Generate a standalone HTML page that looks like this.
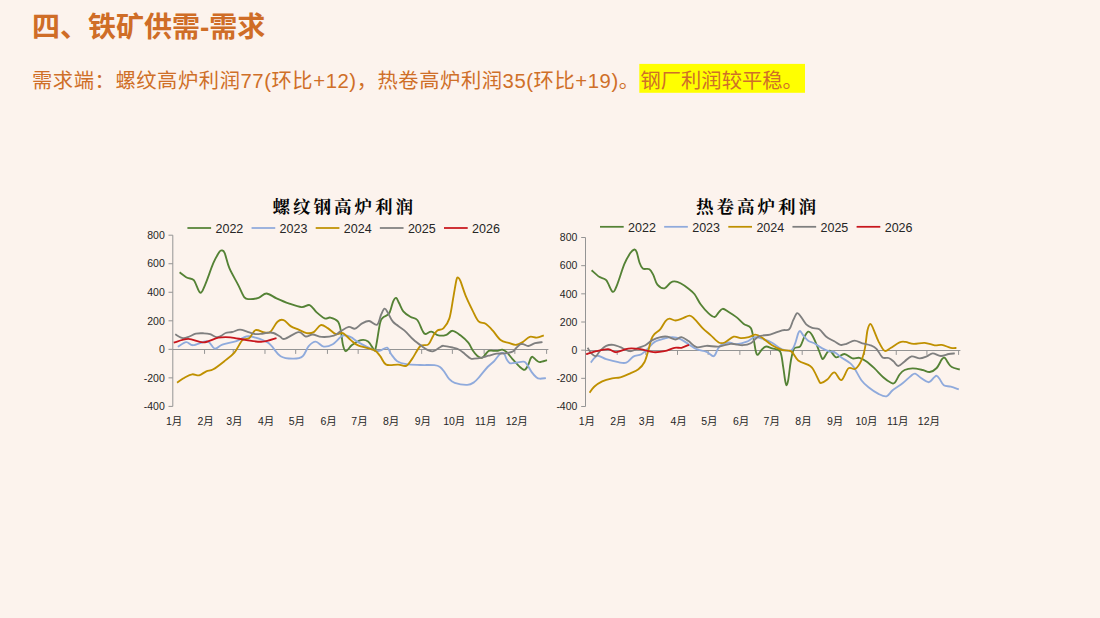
<!DOCTYPE html>
<html><head><meta charset="utf-8"><title>四、铁矿供需-需求</title>
<style>
html,body{margin:0;padding:0;background:#fcf3ed;}
body{width:1100px;height:618px;overflow:hidden;font-family:"Liberation Sans",sans-serif;}
svg{display:block;position:absolute;left:0;top:0}
</style></head><body>
<svg width="1100" height="618" viewBox="0 0 1100 618" role="img" aria-label="四、铁矿供需-需求">
<title>四、铁矿供需-需求</title>
<desc>需求端：螺纹高炉利润77(环比+12)，热卷高炉利润35(环比+19)。钢厂利润较平稳。 图表：螺纹钢高炉利润；热卷高炉利润。图例：2022 2023 2024 2025 2026。纵轴 800 600 400 200 0 -200 -400；横轴 1月 至 12月。</desc>
<rect width="1100" height="618" fill="#fcf3ed"/>
<text x="32" y="37" font-size="28" font-weight="bold" fill="#cf6d27" font-family="'Liberation Sans','Noto Sans CJK SC',sans-serif">四、铁矿供需-需求</text>
<rect x="639.3" y="63.9" width="165.7" height="28.9" fill="#ffff00"/>
<text x="32" y="87.5" font-size="20.3" fill="#cf6f28" textLength="607" lengthAdjust="spacing" font-family="'Liberation Sans','Noto Sans CJK SC',sans-serif">需求端：螺纹高炉利润77(环比+12)，热卷高炉利润35(环比+19)。</text>
<text x="640.5" y="87.5" font-size="20.3" fill="#cf6f28" font-family="'Liberation Sans','Noto Sans CJK SC',sans-serif">钢厂利润较平稳。</text>
<path d="M172.80 235.20V406.40M168.50 235.20H172.80M168.50 263.73H172.80M168.50 292.27H172.80M168.50 320.80H172.80M168.50 349.33H172.80M168.50 377.87H172.80M168.50 406.40H172.80M172.80 349.50H548.40M204.55 349.50v4.4M233.22 349.50v4.4M264.97 349.50v4.4M295.69 349.50v4.4M327.44 349.50v4.4M358.16 349.50v4.4M389.91 349.50v4.4M421.66 349.50v4.4M452.38 349.50v4.4M484.13 349.50v4.4M514.85 349.50v4.4M546.60 349.50v4.4" stroke="#949494" stroke-width="1" fill="none"/>
<g font-size="10.5" fill="#262626" text-anchor="end" font-family="'Liberation Sans',sans-serif">
<text x="164.8" y="238.9">800</text>
<text x="164.8" y="267.4">600</text>
<text x="164.8" y="296">400</text>
<text x="164.8" y="324.5">200</text>
<text x="164.8" y="353">0</text>
<text x="164.8" y="381.6">-200</text>
<text x="164.8" y="410.1">-400</text>
</g>
<g font-size="10.5" fill="#262626" font-family="'Liberation Sans','Noto Sans CJK SC',sans-serif">
<text x="166" y="425">1月</text>
<text x="197.5" y="425">2月</text>
<text x="226.2" y="425">3月</text>
<text x="258" y="425">4月</text>
<text x="288.7" y="425">5月</text>
<text x="320.5" y="425">6月</text>
<text x="351.3" y="425">7月</text>
<text x="383" y="425">8月</text>
<text x="414.7" y="425">9月</text>
<text x="443.2" y="425">10月</text>
<text x="475" y="425">11月</text>
<text x="505.7" y="425">12月</text>
</g>
<text x="272.5" y="213" font-size="17.5" font-weight="bold" letter-spacing="3" fill="#050505" font-family="'Liberation Serif','Noto Serif CJK SC',serif">螺纹钢高炉利润</text>
<path d="M187.40 228.00h23.7" stroke="#548235" stroke-width="1.75" fill="none"/>
<path d="M251.55 228.00h23.7" stroke="#8faadc" stroke-width="1.75" fill="none"/>
<path d="M315.70 228.00h23.7" stroke="#bf9000" stroke-width="1.75" fill="none"/>
<path d="M379.85 228.00h23.7" stroke="#7f7f7f" stroke-width="1.75" fill="none"/>
<path d="M444.00 228.00h23.7" stroke="#c8161d" stroke-width="1.75" fill="none"/>
<g font-size="12.5" fill="#262626" font-family="'Liberation Sans',sans-serif">
<text x="215.5" y="232.9">2022</text>
<text x="279.6" y="232.9">2023</text>
<text x="343.8" y="232.9">2024</text>
<text x="407.9" y="232.9">2025</text>
<text x="472.1" y="232.9">2026</text>
</g>
<path d="M179.60 272.20C180.87 273.13 184.83 276.47 187.20 277.80C189.57 279.13 191.63 277.72 193.80 280.20C195.97 282.68 198.28 292.02 200.20 292.70C202.12 293.38 203.12 289.22 205.30 284.30C207.48 279.38 210.97 268.57 213.30 263.20C215.63 257.83 217.87 254.22 219.30 252.10C220.73 249.98 221.00 250.33 221.90 250.50C222.80 250.67 223.45 250.15 224.70 253.10C225.95 256.05 227.12 262.83 229.40 268.20C231.68 273.57 235.90 280.45 238.40 285.30C240.90 290.15 242.57 295.00 244.40 297.30C246.23 299.60 247.05 299.00 249.40 299.10C251.75 299.20 255.65 298.83 258.50 297.90C261.35 296.97 263.50 293.43 266.50 293.50C269.50 293.57 272.82 296.67 276.50 298.30C280.18 299.93 284.42 301.83 288.60 303.30C292.78 304.77 298.08 306.80 301.60 307.10C305.12 307.40 307.18 304.22 309.70 305.10C312.22 305.98 314.20 310.18 316.70 312.40C319.20 314.62 322.42 317.53 324.70 318.40C326.98 319.27 328.22 317.10 330.40 317.60C332.58 318.10 336.07 319.27 337.80 321.40C339.53 323.53 339.97 326.62 340.80 330.40C341.63 334.18 341.97 340.63 342.80 344.10C343.63 347.57 344.27 351.05 345.80 351.20C347.33 351.35 349.45 346.85 352.00 345.00C354.55 343.15 358.42 340.68 361.10 340.10C363.78 339.52 366.10 340.10 368.10 341.50C370.10 342.90 371.93 347.07 373.10 348.50C374.27 349.93 374.43 351.43 375.10 350.10C375.77 348.77 376.25 345.12 377.10 340.50C377.95 335.88 379.18 326.25 380.20 322.40C381.22 318.55 381.70 318.92 383.20 317.40C384.70 315.88 387.53 315.98 389.20 313.30C390.87 310.62 392.03 303.87 393.20 301.30C394.37 298.73 395.20 297.57 396.20 297.90C397.20 298.23 398.02 301.07 399.20 303.30C400.38 305.53 401.45 309.05 403.30 311.30C405.15 313.55 407.97 315.35 410.30 316.80C412.63 318.25 415.30 317.73 417.30 320.00C419.30 322.27 420.97 328.07 422.30 330.40C423.63 332.73 423.78 333.80 425.30 334.00C426.82 334.20 429.22 331.37 431.40 331.60C433.58 331.83 435.90 334.87 438.40 335.40C440.90 335.93 444.05 335.57 446.40 334.80C448.75 334.03 450.17 330.72 452.50 330.80C454.83 330.88 457.77 333.32 460.40 335.30C463.03 337.28 466.23 340.15 468.30 342.70C470.37 345.25 471.28 348.38 472.80 350.60C474.32 352.82 475.88 354.78 477.40 356.00C478.92 357.22 480.58 358.15 481.90 357.90C483.22 357.65 484.17 355.68 485.30 354.50C486.43 353.32 487.38 351.42 488.70 350.80C490.02 350.18 491.68 350.80 493.20 350.80C494.72 350.80 496.28 350.98 497.80 350.80C499.32 350.62 500.80 349.45 502.30 349.70C503.80 349.95 505.10 350.73 506.80 352.30C508.50 353.87 510.42 356.75 512.50 359.10C514.58 361.45 517.32 364.62 519.30 366.40C521.28 368.18 522.98 369.88 524.40 369.80C525.82 369.72 526.77 367.78 527.80 365.90C528.83 364.02 529.80 360.02 530.60 358.50C531.40 356.98 531.65 356.52 532.60 356.80C533.55 357.08 535.12 359.32 536.30 360.20C537.48 361.08 537.92 362.10 539.70 362.10C541.48 362.10 545.78 360.52 547.00 360.20" stroke="#548235" stroke-width="1.85" fill="none" stroke-linecap="butt" stroke-linejoin="round"/>
<path d="M177.80 346.80C179.20 346.02 183.63 342.37 186.20 342.10C188.77 341.83 189.68 345.33 193.20 345.20C196.72 345.07 203.72 340.73 207.30 341.30C210.88 341.87 212.20 348.05 214.70 348.60C217.20 349.15 218.68 345.85 222.30 344.60C225.92 343.35 232.38 342.45 236.40 341.10C240.42 339.75 243.38 337.13 246.40 336.50C249.42 335.87 250.82 336.20 254.50 337.30C258.18 338.40 264.15 339.95 268.50 343.10C272.85 346.25 276.42 353.62 280.60 356.20C284.78 358.78 289.92 358.60 293.60 358.60C297.28 358.60 300.18 358.27 302.70 356.20C305.22 354.13 306.53 348.62 308.70 346.20C310.87 343.78 313.20 341.63 315.70 341.70C318.20 341.77 320.85 346.18 323.70 346.60C326.55 347.02 329.62 346.02 332.80 344.20C335.98 342.38 339.80 336.88 342.80 335.70C345.80 334.52 348.25 336.03 350.80 337.10C353.35 338.17 354.22 339.92 358.10 342.10C361.98 344.28 370.42 348.78 374.10 350.20C377.78 351.62 378.02 351.03 380.20 350.60C382.38 350.17 385.37 347.00 387.20 347.60C389.03 348.20 389.53 351.93 391.20 354.20C392.87 356.47 394.68 359.53 397.20 361.20C399.72 362.87 402.45 363.57 406.30 364.20C410.15 364.83 415.62 364.83 420.30 365.00C424.98 365.17 431.12 364.87 434.40 365.20C437.68 365.53 438.32 365.85 440.00 367.00C441.68 368.15 442.98 370.12 444.50 372.10C446.02 374.08 447.40 377.10 449.10 378.90C450.80 380.70 451.68 381.92 454.70 382.90C457.72 383.88 463.98 384.90 467.20 384.80C470.42 384.70 471.93 383.67 474.00 382.30C476.07 380.93 477.33 379.15 479.60 376.60C481.87 374.05 485.13 369.63 487.60 367.00C490.07 364.37 492.52 362.78 494.40 360.80C496.28 358.82 497.68 356.43 498.90 355.10C500.12 353.77 500.75 352.90 501.70 352.80C502.65 352.70 503.75 353.37 504.60 354.50C505.45 355.63 505.87 358.13 506.80 359.60C507.73 361.07 508.50 362.82 510.20 363.30C511.90 363.78 514.73 362.77 517.00 362.50C519.27 362.23 522.10 361.33 523.80 361.70C525.50 362.07 525.88 362.97 527.20 364.70C528.52 366.43 530.18 370.02 531.70 372.10C533.22 374.18 534.97 376.10 536.30 377.20C537.63 378.30 538.10 378.55 539.70 378.70C541.30 378.85 544.87 378.20 545.90 378.10" stroke="#8faadc" stroke-width="1.85" fill="none" stroke-linecap="butt" stroke-linejoin="round"/>
<path d="M177.10 382.70C178.45 381.80 182.68 378.70 185.20 377.30C187.72 375.90 189.87 374.63 192.20 374.30C194.53 373.97 196.85 375.80 199.20 375.30C201.55 374.80 203.95 372.30 206.30 371.30C208.65 370.30 210.30 370.98 213.30 369.30C216.30 367.62 220.78 363.98 224.30 361.20C227.82 358.42 231.38 356.12 234.40 352.60C237.42 349.08 239.90 342.52 242.40 340.10C244.90 337.68 247.22 339.77 249.40 338.10C251.58 336.43 252.98 331.03 255.50 330.10C258.02 329.17 262.00 332.23 264.50 332.50C267.00 332.77 268.33 333.50 270.50 331.70C272.67 329.90 275.32 323.63 277.50 321.70C279.68 319.77 281.42 319.37 283.60 320.10C285.78 320.83 288.10 324.50 290.60 326.10C293.10 327.70 295.92 328.53 298.60 329.70C301.28 330.87 304.18 332.70 306.70 333.10C309.22 333.50 311.37 333.43 313.70 332.10C316.03 330.77 318.37 325.77 320.70 325.10C323.03 324.43 325.18 326.60 327.70 328.10C330.22 329.60 333.28 333.27 335.80 334.10C338.32 334.93 340.30 332.10 342.80 333.10C345.30 334.10 348.25 338.05 350.80 340.10C353.35 342.15 354.22 343.72 358.10 345.40C361.98 347.08 370.42 348.40 374.10 350.20C377.78 352.00 378.18 353.80 380.20 356.20C382.22 358.60 383.20 363.20 386.20 364.60C389.20 366.00 394.85 364.40 398.20 364.60C401.55 364.80 403.95 366.80 406.30 365.80C408.65 364.80 409.97 361.87 412.30 358.60C414.63 355.33 417.62 348.57 420.30 346.20C422.98 343.83 426.22 346.20 428.40 344.40C430.58 342.60 431.90 337.73 433.40 335.40C434.90 333.07 435.73 331.57 437.40 330.40C439.07 329.23 441.40 330.40 443.40 328.40C445.40 326.40 447.72 323.75 449.40 318.40C451.08 313.05 452.32 302.73 453.50 296.30C454.68 289.87 455.72 282.92 456.50 279.80C457.28 276.68 457.53 277.37 458.20 277.60C458.87 277.83 459.28 278.25 460.50 281.20C461.72 284.15 463.50 290.45 465.50 295.30C467.50 300.15 470.32 305.95 472.50 310.30C474.68 314.65 476.42 319.15 478.60 321.40C480.78 323.65 483.27 322.30 485.60 323.80C487.93 325.30 490.10 327.68 492.60 330.40C495.10 333.12 497.92 338.02 500.60 340.10C503.28 342.18 506.18 342.10 508.70 342.90C511.22 343.70 513.37 345.03 515.70 344.90C518.03 344.77 520.35 343.45 522.70 342.10C525.05 340.75 527.45 337.55 529.80 336.80C532.15 336.05 534.47 337.83 536.80 337.60C539.13 337.37 542.63 335.77 543.80 335.40" stroke="#bf9000" stroke-width="1.85" fill="none" stroke-linecap="butt" stroke-linejoin="round"/>
<path d="M175.20 334.30C176.48 334.95 180.53 337.83 182.90 338.20C185.27 338.57 187.23 337.27 189.40 336.50C191.57 335.73 193.53 334.13 195.90 333.60C198.27 333.07 201.23 333.20 203.60 333.30C205.97 333.40 207.93 333.55 210.10 334.20C212.27 334.85 214.77 336.92 216.60 337.20C218.43 337.48 219.60 336.60 221.10 335.90C222.60 335.20 223.77 333.65 225.60 333.00C227.43 332.35 229.72 332.55 232.10 332.00C234.48 331.45 237.52 329.80 239.90 329.70C242.28 329.60 244.03 330.70 246.40 331.40C248.77 332.10 251.73 333.48 254.10 333.90C256.47 334.32 258.22 334.12 260.60 333.90C262.98 333.68 266.25 332.75 268.40 332.60C270.55 332.45 271.57 332.35 273.50 333.00C275.43 333.65 278.15 335.52 280.00 336.50C281.85 337.48 281.50 339.63 284.60 338.90C287.70 338.17 295.08 332.50 298.60 332.10C302.12 331.70 303.35 336.10 305.70 336.50C308.05 336.90 310.03 334.43 312.70 334.50C315.37 334.57 318.18 336.70 321.70 336.90C325.22 337.10 330.62 336.67 333.80 335.70C336.98 334.73 338.30 332.57 340.80 331.10C343.30 329.63 346.42 327.30 348.80 326.90C351.18 326.50 352.88 329.28 355.10 328.70C357.32 328.12 359.77 324.68 362.10 323.40C364.43 322.12 366.60 320.77 369.10 321.00C371.60 321.23 375.08 325.90 377.10 324.80C379.12 323.70 379.95 317.08 381.20 314.40C382.45 311.72 383.43 308.88 384.60 308.70C385.77 308.52 386.77 311.08 388.20 313.30C389.63 315.52 390.52 319.15 393.20 322.00C395.88 324.85 400.95 327.48 404.30 330.40C407.65 333.32 410.30 336.82 413.30 339.50C416.30 342.18 419.78 344.68 422.30 346.50C424.82 348.32 426.55 349.62 428.40 350.40C430.25 351.18 431.47 351.73 433.40 351.20C435.33 350.67 438.33 348.10 440.00 347.20C441.67 346.30 441.32 345.75 443.40 345.80C445.48 345.85 449.85 346.85 452.50 347.50C455.15 348.15 457.23 348.62 459.30 349.70C461.37 350.78 463.02 352.53 464.90 354.00C466.78 355.47 469.08 357.72 470.60 358.50C472.12 359.28 472.30 358.80 474.00 358.70C475.70 358.60 478.35 358.40 480.80 357.90C483.25 357.40 486.07 356.40 488.70 355.70C491.33 355.00 493.95 354.08 496.60 353.70C499.25 353.32 501.95 353.73 504.60 353.40C507.25 353.07 510.62 352.55 512.50 351.70C514.38 350.85 514.58 349.53 515.90 348.30C517.22 347.07 519.08 344.97 520.40 344.30C521.72 343.63 522.48 344.02 523.80 344.30C525.12 344.58 526.42 346.18 528.30 346.00C530.18 345.82 532.73 343.85 535.10 343.20C537.47 342.55 541.27 342.28 542.50 342.10" stroke="#7f7f7f" stroke-width="1.85" fill="none" stroke-linecap="butt" stroke-linejoin="round"/>
<path d="M173.70 342.70C176.12 342.07 183.27 338.97 188.20 338.90C193.13 338.83 198.28 342.50 203.30 342.30C208.32 342.10 213.78 338.53 218.30 337.70C222.82 336.87 225.72 336.90 230.40 337.30C235.08 337.70 241.05 339.37 246.40 340.10C251.75 340.83 257.48 342.03 262.50 341.70C267.52 341.37 274.17 338.70 276.50 338.10" stroke="#c8161d" stroke-width="1.85" fill="none" stroke-linecap="butt" stroke-linejoin="round"/>
<path d="M585.50 237.50V406.50M581.20 237.50H585.50M581.20 265.67H585.50M581.20 293.83H585.50M581.20 322.00H585.50M581.20 350.17H585.50M581.20 378.33H585.50M581.20 406.50H585.50M585.50 350.50H960.40M617.19 350.50v4.4M645.81 350.50v4.4M677.50 350.50v4.4M708.16 350.50v4.4M739.85 350.50v4.4M770.52 350.50v4.4M802.20 350.50v4.4M833.89 350.50v4.4M864.56 350.50v4.4M896.25 350.50v4.4M926.91 350.50v4.4M958.60 350.50v4.4" stroke="#949494" stroke-width="1" fill="none"/>
<g font-size="10.5" fill="#262626" text-anchor="end" font-family="'Liberation Sans',sans-serif">
<text x="577.4" y="241.2">800</text>
<text x="577.4" y="269.4">600</text>
<text x="577.4" y="297.5">400</text>
<text x="577.4" y="325.7">200</text>
<text x="577.4" y="353.9">0</text>
<text x="577.4" y="382">-200</text>
<text x="577.4" y="410.2">-400</text>
</g>
<g font-size="10.5" fill="#262626" font-family="'Liberation Sans','Noto Sans CJK SC',sans-serif">
<text x="578.7" y="425">1月</text>
<text x="610.2" y="425">2月</text>
<text x="638.8" y="425">3月</text>
<text x="670.5" y="425">4月</text>
<text x="701.2" y="425">5月</text>
<text x="733" y="425">6月</text>
<text x="763.6" y="425">7月</text>
<text x="795.3" y="425">8月</text>
<text x="827" y="425">9月</text>
<text x="855.4" y="425">10月</text>
<text x="887.1" y="425">11月</text>
<text x="917.8" y="425">12月</text>
</g>
<text x="696" y="213.2" font-size="17.5" font-weight="bold" letter-spacing="3" fill="#050505" font-family="'Liberation Serif','Noto Serif CJK SC',serif">热卷高炉利润</text>
<path d="M600.00 226.80h23.7" stroke="#548235" stroke-width="1.75" fill="none"/>
<path d="M664.15 226.80h23.7" stroke="#8faadc" stroke-width="1.75" fill="none"/>
<path d="M728.30 226.80h23.7" stroke="#bf9000" stroke-width="1.75" fill="none"/>
<path d="M792.45 226.80h23.7" stroke="#7f7f7f" stroke-width="1.75" fill="none"/>
<path d="M856.60 226.80h23.7" stroke="#c8161d" stroke-width="1.75" fill="none"/>
<g font-size="12.5" fill="#262626" font-family="'Liberation Sans',sans-serif">
<text x="628.1" y="231.7">2022</text>
<text x="692.2" y="231.7">2023</text>
<text x="756.4" y="231.7">2024</text>
<text x="820.5" y="231.7">2025</text>
<text x="884.7" y="231.7">2026</text>
</g>
<path d="M591.60 270.20C592.87 271.30 596.77 275.13 599.20 276.80C601.63 278.47 603.95 277.68 606.20 280.20C608.45 282.72 610.85 291.22 612.70 291.90C614.55 292.58 615.37 288.92 617.30 284.30C619.23 279.68 622.13 269.40 624.30 264.20C626.47 259.00 628.63 255.55 630.30 253.10C631.97 250.65 633.23 249.67 634.30 249.50C635.37 249.33 635.85 249.98 636.70 252.10C637.55 254.22 638.38 259.45 639.40 262.20C640.42 264.95 641.13 267.43 642.80 268.60C644.47 269.77 647.63 268.10 649.40 269.20C651.17 270.30 652.07 272.62 653.40 275.20C654.73 277.78 655.55 282.52 657.40 284.70C659.25 286.88 662.32 288.63 664.50 288.30C666.68 287.97 668.83 283.85 670.50 282.70C672.17 281.55 672.83 281.30 674.50 281.40C676.17 281.50 678.15 282.08 680.50 283.30C682.85 284.52 686.25 286.87 688.60 288.70C690.95 290.53 692.60 291.70 694.60 294.30C696.60 296.90 698.27 301.12 700.60 304.30C702.93 307.48 706.25 311.28 708.60 313.40C710.95 315.52 713.02 317.17 714.70 317.00C716.38 316.83 717.37 313.77 718.70 312.40C720.03 311.03 721.03 308.87 722.70 308.80C724.37 308.73 726.37 310.57 728.70 312.00C731.03 313.43 734.18 315.40 736.70 317.40C739.22 319.40 741.45 322.23 743.80 324.00C746.15 325.77 749.13 325.32 750.80 328.00C752.47 330.68 752.97 336.23 753.80 340.10C754.63 343.97 755.13 348.75 755.80 351.20C756.47 353.65 756.77 355.10 757.80 354.80C758.83 354.50 760.62 350.78 762.00 349.40C763.38 348.02 764.42 346.67 766.10 346.50C767.78 346.33 769.77 347.58 772.10 348.40C774.43 349.22 778.27 348.42 780.10 351.40C781.93 354.38 782.27 361.50 783.10 366.30C783.93 371.10 784.53 377.03 785.10 380.20C785.67 383.37 785.98 385.30 786.50 385.30C787.02 385.30 787.58 383.55 788.20 380.20C788.82 376.85 789.63 369.07 790.20 365.20C790.77 361.33 790.93 359.80 791.60 357.00C792.27 354.20 792.77 350.18 794.20 348.40C795.63 346.62 798.53 348.15 800.20 346.30C801.87 344.45 802.87 339.73 804.20 337.30C805.53 334.87 806.87 332.03 808.20 331.70C809.53 331.37 810.68 332.87 812.20 335.30C813.72 337.73 815.78 342.72 817.30 346.30C818.82 349.88 820.30 354.72 821.30 356.80C822.30 358.88 822.30 359.53 823.30 358.80C824.30 358.07 826.13 353.73 827.30 352.40C828.47 351.07 828.80 349.97 830.30 350.80C831.80 351.63 833.95 356.87 836.30 357.40C838.65 357.93 841.72 353.83 844.40 354.00C847.08 354.17 849.90 357.77 852.40 358.40C854.90 359.03 857.05 357.30 859.40 357.80C861.75 358.30 863.98 359.63 866.50 361.40C869.02 363.17 871.67 365.72 874.50 368.40C877.33 371.08 880.82 375.15 883.50 377.50C886.18 379.85 888.75 381.60 890.60 382.50C892.45 383.40 893.10 384.23 894.60 382.90C896.10 381.57 897.93 376.65 899.60 374.50C901.27 372.35 902.42 371.02 904.60 370.00C906.78 368.98 909.68 368.40 912.70 368.40C915.72 368.40 919.87 369.40 922.70 370.00C925.53 370.60 927.37 372.33 929.70 372.00C932.03 371.67 934.68 370.10 936.70 368.00C938.72 365.90 940.45 361.10 941.80 359.40C943.15 357.70 943.80 357.30 944.80 357.80C945.80 358.30 946.63 360.87 947.80 362.40C948.97 363.93 949.80 365.82 951.80 367.00C953.80 368.18 958.47 369.08 959.80 369.50" stroke="#548235" stroke-width="1.85" fill="none" stroke-linecap="butt" stroke-linejoin="round"/>
<path d="M590.80 362.60C591.87 361.47 594.63 356.37 597.20 355.80C599.77 355.23 602.68 358.13 606.20 359.20C609.72 360.27 614.95 361.63 618.30 362.20C621.65 362.77 623.80 363.53 626.30 362.60C628.80 361.67 630.78 358.00 633.30 356.60C635.82 355.20 638.88 355.60 641.40 354.20C643.92 352.80 646.23 350.22 648.40 348.20C650.57 346.18 651.72 343.72 654.40 342.10C657.08 340.48 661.48 339.33 664.50 338.50C667.52 337.67 669.83 337.00 672.50 337.10C675.17 337.20 677.82 337.92 680.50 339.10C683.18 340.28 685.92 342.52 688.60 344.20C691.28 345.88 693.60 347.93 696.60 349.20C699.60 350.47 703.75 350.63 706.60 351.80C709.45 352.97 711.85 356.63 713.70 356.20C715.55 355.77 716.37 351.13 717.70 349.20C719.03 347.27 719.87 345.72 721.70 344.60C723.53 343.48 726.20 342.57 728.70 342.50C731.20 342.43 733.68 344.33 736.70 344.20C739.72 344.07 743.83 342.87 746.80 341.70C749.77 340.53 751.97 337.70 754.50 337.20C757.03 336.70 759.07 337.78 762.00 338.70C764.93 339.62 768.75 340.92 772.10 342.70C775.45 344.48 778.92 348.12 782.10 349.40C785.28 350.68 789.02 351.42 791.20 350.40C793.38 349.38 794.03 346.15 795.20 343.30C796.37 340.45 797.37 335.33 798.20 333.30C799.03 331.27 799.37 330.77 800.20 331.10C801.03 331.43 801.87 333.70 803.20 335.30C804.53 336.90 806.35 339.37 808.20 340.70C810.05 342.03 811.95 342.02 814.30 343.30C816.65 344.58 819.80 347.05 822.30 348.40C824.80 349.75 827.30 350.80 829.30 351.40C831.30 352.00 832.28 351.00 834.30 352.00C836.32 353.00 838.72 355.50 841.40 357.40C844.08 359.30 848.23 361.60 850.40 363.40C852.57 365.20 852.57 365.40 854.40 368.20C856.23 371.00 859.05 377.02 861.40 380.20C863.75 383.38 865.65 385.02 868.50 387.30C871.35 389.58 875.50 392.40 878.50 393.90C881.50 395.40 884.15 396.90 886.50 396.30C888.85 395.70 889.92 392.47 892.60 390.30C895.28 388.13 899.60 385.65 902.60 383.30C905.60 380.95 908.52 377.82 910.60 376.20C912.68 374.58 913.42 373.33 915.10 373.60C916.78 373.87 918.43 376.37 920.70 377.80C922.97 379.23 926.53 382.20 928.70 382.20C930.87 382.20 932.37 378.87 933.70 377.80C935.03 376.73 935.68 375.57 936.70 375.80C937.72 376.03 938.62 377.62 939.80 379.20C940.98 380.78 941.97 384.05 943.80 385.30C945.63 386.55 948.30 386.03 950.80 386.70C953.30 387.37 957.47 388.87 958.80 389.30" stroke="#8faadc" stroke-width="1.85" fill="none" stroke-linecap="butt" stroke-linejoin="round"/>
<path d="M589.60 392.70C590.37 391.70 592.10 388.60 594.20 386.70C596.30 384.80 599.20 382.70 602.20 381.30C605.20 379.90 609.18 378.97 612.20 378.30C615.22 377.63 617.28 378.13 620.30 377.30C623.32 376.47 627.28 374.63 630.30 373.30C633.32 371.97 636.05 371.15 638.40 369.30C640.75 367.45 642.73 365.38 644.40 362.20C646.07 359.02 647.23 354.05 648.40 350.20C649.57 346.35 650.40 341.78 651.40 339.10C652.40 336.42 652.90 335.77 654.40 334.10C655.90 332.43 658.55 331.27 660.40 329.10C662.25 326.93 663.98 322.83 665.50 321.10C667.02 319.37 667.83 318.80 669.50 318.70C671.17 318.60 673.33 320.55 675.50 320.50C677.67 320.45 680.15 319.22 682.50 318.40C684.85 317.58 687.58 315.48 689.60 315.60C691.62 315.72 692.43 317.02 694.60 319.10C696.77 321.18 699.93 325.43 702.60 328.10C705.27 330.77 707.92 332.70 710.60 335.10C713.28 337.50 716.35 341.27 718.70 342.50C721.05 343.73 722.20 343.47 724.70 342.50C727.20 341.53 731.02 337.43 733.70 336.70C736.38 335.97 738.28 338.03 740.80 338.10C743.32 338.17 746.35 337.67 748.80 337.10C751.25 336.53 753.38 334.68 755.50 334.70C757.62 334.72 758.73 335.43 761.50 337.20C764.27 338.97 768.67 343.17 772.10 345.30C775.53 347.43 778.92 348.98 782.10 350.00C785.28 351.02 788.52 349.67 791.20 351.40C793.88 353.13 795.03 357.97 798.20 360.40C801.37 362.83 807.52 364.17 810.20 366.00C812.88 367.83 812.78 368.82 814.30 371.40C815.82 373.98 818.13 379.58 819.30 381.50C820.47 383.42 819.97 383.23 821.30 382.90C822.63 382.57 825.13 381.25 827.30 379.50C829.47 377.75 831.95 372.30 834.30 372.40C836.65 372.50 839.05 380.77 841.40 380.10C843.75 379.43 846.07 370.28 848.40 368.40C850.73 366.52 853.23 370.13 855.40 368.80C857.57 367.47 859.82 363.80 861.40 360.40C862.98 357.00 863.88 353.42 864.90 348.40C865.92 343.38 866.57 334.38 867.50 330.30C868.43 326.22 869.50 324.07 870.50 323.90C871.50 323.73 872.17 326.40 873.50 329.30C874.83 332.20 876.67 337.72 878.50 341.30C880.33 344.88 882.48 349.68 884.50 350.80C886.52 351.92 888.08 349.42 890.60 348.00C893.12 346.58 897.10 343.32 899.60 342.30C902.10 341.28 903.25 341.63 905.60 341.90C907.95 342.17 910.52 343.73 913.70 343.90C916.88 344.07 921.20 342.67 924.70 342.90C928.20 343.13 931.85 344.97 934.70 345.30C937.55 345.63 939.12 344.48 941.80 344.90C944.48 345.32 948.37 347.28 950.80 347.80C953.23 348.32 955.47 347.97 956.40 348.00" stroke="#bf9000" stroke-width="1.85" fill="none" stroke-linecap="butt" stroke-linejoin="round"/>
<path d="M587.60 347.80C588.20 348.70 589.83 351.80 591.20 353.20C592.57 354.60 594.30 356.63 595.80 356.20C597.30 355.77 598.47 352.33 600.20 350.60C601.93 348.87 604.02 346.77 606.20 345.80C608.38 344.83 610.95 344.57 613.30 344.80C615.65 345.03 617.47 346.13 620.30 347.20C623.13 348.27 627.28 351.10 630.30 351.20C633.32 351.30 635.88 348.80 638.40 347.80C640.92 346.80 643.07 346.48 645.40 345.20C647.73 343.92 649.90 341.45 652.40 340.10C654.90 338.75 657.88 337.67 660.40 337.10C662.92 336.53 664.98 336.30 667.50 336.70C670.02 337.10 673.17 339.43 675.50 339.50C677.83 339.57 679.32 336.83 681.50 337.10C683.68 337.37 686.08 339.42 688.60 341.10C691.12 342.78 693.60 346.42 696.60 347.20C699.60 347.98 702.92 345.90 706.60 345.80C710.28 345.70 714.68 346.93 718.70 346.60C722.72 346.27 726.68 344.03 730.70 343.80C734.72 343.57 739.45 345.30 742.80 345.20C746.15 345.10 748.13 344.68 750.80 343.20C753.47 341.72 755.58 337.73 758.80 336.30C762.02 334.87 766.22 335.60 770.10 334.60C773.98 333.60 778.92 331.18 782.10 330.30C785.28 329.42 787.35 330.98 789.20 329.30C791.05 327.62 791.87 322.88 793.20 320.20C794.53 317.52 795.87 313.70 797.20 313.20C798.53 312.70 799.70 315.35 801.20 317.20C802.70 319.05 804.37 322.52 806.20 324.30C808.03 326.08 810.02 327.07 812.20 327.90C814.38 328.73 816.95 327.83 819.30 329.30C821.65 330.77 823.80 334.70 826.30 336.70C828.80 338.70 831.95 339.93 834.30 341.30C836.65 342.67 838.38 344.47 840.40 344.90C842.42 345.33 844.07 344.60 846.40 343.90C848.73 343.20 851.73 340.80 854.40 340.70C857.07 340.60 859.72 342.53 862.40 343.30C865.08 344.07 868.15 344.38 870.50 345.30C872.85 346.22 874.50 346.78 876.50 348.80C878.50 350.82 880.48 355.87 882.50 357.40C884.52 358.93 886.75 357.33 888.60 358.00C890.45 358.67 892.00 360.07 893.60 361.40C895.20 362.73 896.37 366.00 898.20 366.00C900.03 366.00 902.37 363.00 904.60 361.40C906.83 359.80 909.08 356.90 911.60 356.40C914.12 355.90 917.18 358.40 919.70 358.40C922.22 358.40 924.53 357.23 926.70 356.40C928.87 355.57 930.35 353.47 932.70 353.40C935.05 353.33 938.12 355.90 940.80 356.00C943.48 356.10 946.47 354.43 948.80 354.00C951.13 353.57 953.80 353.50 954.80 353.40" stroke="#7f7f7f" stroke-width="1.85" fill="none" stroke-linecap="butt" stroke-linejoin="round"/>
<path d="M586.10 354.20C587.78 353.70 592.52 352.03 596.20 351.20C599.88 350.37 604.85 349.03 608.20 349.20C611.55 349.37 612.95 352.30 616.30 352.20C619.65 352.10 624.28 349.10 628.30 348.60C632.32 348.10 636.22 348.60 640.40 349.20C644.58 349.80 649.38 351.87 653.40 352.20C657.42 352.53 660.98 351.93 664.50 351.20C668.02 350.47 671.67 348.37 674.50 347.80C677.33 347.23 679.08 348.30 681.50 347.80C683.92 347.30 687.75 345.30 689.00 344.80" stroke="#c8161d" stroke-width="1.85" fill="none" stroke-linecap="butt" stroke-linejoin="round"/>
</svg>
</body></html>
